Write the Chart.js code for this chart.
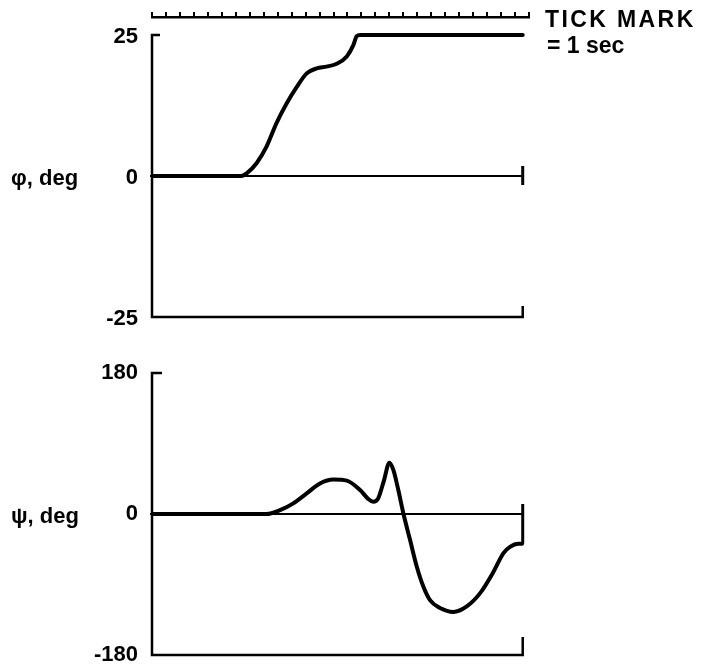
<!DOCTYPE html>
<html><head><meta charset="utf-8">
<script src="https://cdn.jsdelivr.net/npm/chart.js@4"></script>
<style>
html,body{margin:0;padding:0;background:#fff;}
#wrap{position:relative;width:703px;height:667px;}
canvas{position:absolute;left:0;}
#c1{top:0}
#c2{top:340px}
</style></head><body>
<div id="wrap"><canvas id="c1" width="703" height="340"></canvas><canvas id="c2" width="703" height="327"></canvas></div>
<script>
// ---- data ----
const timeMaxSec = 27;          // tick strip: one mark per second
const recordEndSec = 26.55;     // end of recorded trace
const phiTicks = [-25, 0, 25];
const psiTicks = [-180, 0, 180];
const phiTime = [0, 6.4, 6.8, 7.5, 8.2, 8.9, 9.65, 10.37, 11.08, 11.8, 12.5, 13.23, 13.95, 14.42, 14.66, 14.9, 26.55];
const phiDeg  = [0, 0, 0.5, 2.3, 5.2, 9.3, 12.9, 15.8, 18.2, 19.1, 19.4, 19.9, 21.2, 23.2, 24.8, 25, 25];
const psiTime = [0, 8.2, 9.17, 10.12, 11.08, 12.03, 12.99, 13.95, 14.9, 15.5, 15.85, 16.2, 16.6, 17.0, 17.29, 17.64, 18.0, 18.48, 18.96, 19.44, 19.91, 20.63, 21.58, 22.54, 23.5, 24.45, 25.17, 25.64, 26.24, 26.5];
const psiDeg  = [0, 0, 5, 13.6, 26.4, 39, 44, 42.6, 30.6, 19, 15.5, 20, 42, 65.5, 56, 30.6, 1, -33, -67, -93, -110, -120, -125, -118, -101, -74, -50, -42, -38, -38];
const phiLabel = 'φ, deg';
const psiLabel = 'ψ, deg';
const noteLines = ['TICK MARK', '= 1 sec'];

const FONT = "'Liberation Sans', Arial, Helvetica, sans-serif";
const pts = (t, v) => t.map((x, i) => ({x, y: v[i]}));

function framePlugin(o) {
  return {
    id: 'frame' + o.key,
    beforeDatasetsDraw(chart) {
      const ctx = chart.ctx, xs = chart.scales.x, ys = chart.scales.y;
      const x0 = xs.getPixelForValue(0), x1 = xs.getPixelForValue(recordEndSec);
      const yTop = ys.getPixelForValue(o.ticks[2]);
      const yMid = ys.getPixelForValue(0);
      const yBot = ys.getPixelForValue(o.ticks[0]);
      ctx.save();
      ctx.strokeStyle = '#000';
      ctx.lineWidth = 2.5;
      ctx.beginPath();
      ctx.moveTo(x0 + o.bracket, yTop); ctx.lineTo(x0, yTop); ctx.lineTo(x0, yBot);
      ctx.lineTo(x1, yBot); ctx.lineTo(x1, yBot - o.botTick);
      ctx.stroke();
      ctx.lineWidth = 2;
      ctx.beginPath(); ctx.moveTo(x0 - 2, yMid); ctx.lineTo(x1, yMid); ctx.stroke();
      ctx.lineWidth = 3;
      const low = o.last !== undefined ? Math.max(yMid + 9, ys.getPixelForValue(o.last)) : yMid + 9;
      ctx.beginPath(); ctx.moveTo(x1, yMid - 10); ctx.lineTo(x1, low); ctx.stroke();
      ctx.font = 'bold 22px ' + FONT;
      ctx.fillStyle = '#000';
      ctx.textBaseline = 'middle';
      ctx.textAlign = 'left';
      ctx.fillText(o.label, 11, yMid + 3);
      ctx.restore();
    }
  };
}

const notePlugin = {
  id: 'note',
  afterDraw(chart) {
    const ctx = chart.ctx, a = chart.chartArea;
    ctx.save();
    ctx.fillStyle = '#000';
    ctx.font = 'bold 23px ' + FONT;
    ctx.textAlign = 'left';
    ctx.textBaseline = 'alphabetic';
    try { ctx.letterSpacing = '2.4px'; } catch (e) {}
    ctx.fillText(noteLines[0], a.right + 16, 27);
    try { ctx.letterSpacing = '0px'; } catch (e) {}
    ctx.fillText(noteLines[1], a.right + 18, 53);
    ctx.restore();
  }
};

function yAxis(min, max, ticks, off) {
  return {
    min, max,
    afterBuildTicks: s => { s.ticks = ticks.map(v => ({value: v})); },
    afterFit: s => { s.width = 152; s.paddingTop = 0; s.paddingBottom = 0; },
    grid: {display: false, drawTicks: false},
    border: {display: false},
    ticks: {color: '#000', font: {family: FONT, size: 22, weight: 'bold'}, padding: 14, labelOffset: off, autoSkip: false}
  };
}

const lineDs = (data) => ({
  data, borderColor: '#000', borderWidth: 4, pointRadius: 0, fill: false,
  cubicInterpolationMode: 'monotone', borderCapStyle: 'round', borderJoinStyle: 'round'
});

Chart.defaults.animation = false;

new Chart(document.getElementById('c1'), {
  type: 'line',
  data: {datasets: [lineDs(pts(phiTime, phiDeg))]},
  options: {
    responsive: false, maintainAspectRatio: false, events: [],
    layout: {padding: {top: 12, left: 0, right: 174, bottom: 23}},
    plugins: {legend: {display: false}, tooltip: {enabled: false}},
    scales: {
      x: {
        type: 'linear', position: 'top', min: 0, max: timeMaxSec,
        ticks: {display: false, stepSize: 1, autoSkip: false},
        grid: {drawOnChartArea: false, drawTicks: true, tickLength: 5, color: '#000', lineWidth: 2},
        border: {display: true, color: '#000', width: 2.5}
      },
      y: yAxis(-25, 28.2, phiTicks, 2)
    }
  },
  plugins: [framePlugin({key: 'phi', ticks: phiTicks, bracket: 8, botTick: 11, label: phiLabel}), notePlugin]
});

new Chart(document.getElementById('c2'), {
  type: 'line',
  data: {datasets: [lineDs(pts(psiTime, psiDeg))]},
  options: {
    responsive: false, maintainAspectRatio: false, events: [],
    layout: {padding: {top: 33, left: 0, right: 174, bottom: 12}},
    plugins: {legend: {display: false}, tooltip: {enabled: false}},
    scales: {
      x: {type: 'linear', display: false, min: 0, max: timeMaxSec},
      y: yAxis(-180, 180, psiTicks, 0)
    }
  },
  plugins: [framePlugin({key: 'psi', ticks: psiTicks, bracket: 10, botTick: 18, label: psiLabel, last: psiDeg[psiDeg.length - 1]})]
});
</script>
</body></html>
